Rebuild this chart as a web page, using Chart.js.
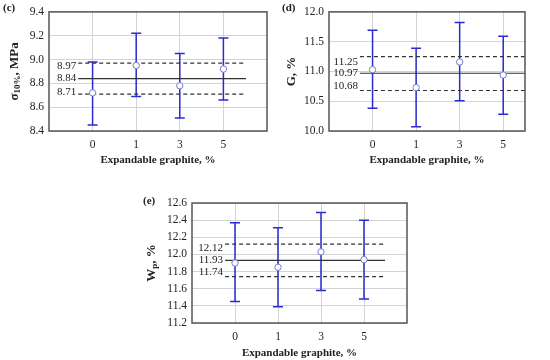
<!DOCTYPE html>
<html>
<head>
<meta charset="utf-8">
<script src="https://cdn.jsdelivr.net/npm/chart.js@4/dist/chart.umd.min.js"></script>
<style>
  body { margin: 0; background: #fff; width: 550px; height: 360px; position: relative; overflow: hidden; }
  canvas { position: absolute; }
  .tag { position: absolute; font: bold 11px "Liberation Serif", serif; color: #222; }
</style>
</head>
<body>
<canvas id="chartC" width="275" height="175" style="left:0;top:0"></canvas>
<canvas id="chartD" width="275" height="175" style="left:275px;top:0"></canvas>
<canvas id="chartE" width="290" height="180" style="left:130px;top:180px"></canvas>
<div class="tag" style="left:3px;top:1px">(c)</div>
<div class="tag" style="left:282px;top:1px">(d)</div>
<div class="tag" style="left:143px;top:194px">(e)</div>
<script>
// ===== DATA =====
const categories = ["0", "1", "3", "5"];

const sigmaMean = [8.72, 8.95, 8.78, 8.92];
const sigmaLow  = [8.45, 8.69, 8.51, 8.66];
const sigmaHigh = [8.98, 9.22, 9.05, 9.18];
const sigmaRef  = [8.97, 8.84, 8.71];

const gMean = [11.03, 10.73, 11.16, 10.94];
const gLow  = [10.38, 10.07, 10.51, 10.28];
const gHigh = [11.69, 11.39, 11.82, 11.59];
const gRef  = [11.25, 10.97, 10.68];

const wMean = [11.90, 11.85, 12.03, 11.94];
const wLow  = [11.45, 11.39, 11.58, 11.48];
const wHigh = [12.37, 12.31, 12.49, 12.40];
const wRef  = [12.12, 11.93, 11.74];

const FONT = "Liberation Serif";
const BLUE = "#2b2bd0";

// error bars, frame, reference labels, y title
const panelPlugin = {
    id: "panel",
    beforeDatasetsDraw(chart, args, opts) {
        const { ctx, scales: { x, y } } = chart;
        ctx.save();
        ctx.strokeStyle = BLUE;
        ctx.lineWidth = 1.5;
        opts.low.forEach((lo, i) => {
            const px = x.getPixelForValue(i);
            const y1 = y.getPixelForValue(lo);
            const y2 = y.getPixelForValue(opts.high[i]);
            ctx.beginPath();
            ctx.moveTo(px, y1); ctx.lineTo(px, y2);
            ctx.moveTo(px - 5, y1); ctx.lineTo(px + 5, y1);
            ctx.moveTo(px - 5, y2); ctx.lineTo(px + 5, y2);
            ctx.stroke();
        });
        ctx.restore();
    },
    afterDraw(chart, args, opts) {
        const { ctx, chartArea: a, scales: { x, y } } = chart;
        ctx.save();
        ctx.strokeStyle = "#555";
        ctx.lineWidth = 1.5;
        ctx.strokeRect(a.left, a.top, a.right - a.left, a.bottom - a.top);

        ctx.fillStyle = "#222";
        ctx.font = `11px "${FONT}"`;
        ctx.textAlign = "right";
        ctx.textBaseline = "middle";
        opts.refs.forEach((v, i) => {
            ctx.fillText(v.toFixed(2), x.getPixelForValue(opts.refStart) - 2,
                y.getPixelForValue(v) + opts.labelShift[i]);
        });

        // rotated y title with subscript
        ctx.translate(opts.titleX, (a.top + a.bottom) / 2);
        ctx.rotate(-Math.PI / 2);
        ctx.textBaseline = "middle";
        ctx.textAlign = "left";
        const fontOf = s => `bold ${s.sub ? 9 : 13}px "${FONT}"`;
        let total = 0;
        opts.title.forEach(s => {
            ctx.font = fontOf(s);
            total += ctx.measureText(s.t).width;
        });
        let cx = -total / 2;
        opts.title.forEach(s => {
            ctx.font = fontOf(s);
            ctx.fillText(s.t, cx, s.sub ? 3 : 0);
            cx += ctx.measureText(s.t).width;
        });
        ctx.restore();
    }
};

function makeChart(id, p) {
    return new Chart(document.getElementById(id).getContext("2d"), {
        type: "scatter",
        data: {
            datasets: [
                {
                    data: p.mean.map((v, i) => ({ x: i, y: v })),
                    pointRadius: 3.2,
                    pointBackgroundColor: "#fff",
                    pointBorderColor: "#7a7ad0",
                    pointBorderWidth: 1,
                    order: 0
                },
                ...p.refs.map((v, i) => ({
                    type: "line",
                    data: [{ x: p.refStart, y: v }, { x: p.refEnd, y: v }],
                    borderColor: "#333",
                    borderWidth: 1.2,
                    borderDash: i === 1 ? [] : [4, 3],
                    pointRadius: 0,
                    order: 1
                }))
            ]
        },
        options: {
            responsive: false,
            animation: false,
            layout: { padding: { top: p.top, right: p.right, left: 0, bottom: p.bottom } },
            plugins: {
                legend: { display: false },
                tooltip: { enabled: false },
                panel: {
                    low: p.low, high: p.high, refs: p.refs,
                    refStart: p.refStart, labelShift: p.labelShift,
                    title: p.title, titleX: p.titleX
                }
            },
            scales: {
                x: {
                    type: "linear",
                    min: -1, max: p.xMax,
                    afterBuildTicks: axis => { axis.ticks = categories.map((c, i) => ({ value: i })); },
                    afterFit: axis => { axis.height = p.xHeight; },
                    grid: { color: "#d4d4d4", drawTicks: false },
                    border: { display: false },
                    ticks: {
                        padding: 7,
                        color: "#222",
                        font: { family: FONT, size: 11.5 },
                        callback: v => categories[v] ?? ""
                    },
                    title: {
                        display: true,
                        text: "Expandable graphite, %",
                        color: "#222",
                        font: { family: FONT, size: 11, weight: "bold" },
                        padding: { top: 4, bottom: 0 }
                    }
                },
                y: {
                    min: p.yMin, max: p.yMax,
                    afterFit: axis => { axis.width = p.left; },
                    grid: { color: "#d4d4d4", drawTicks: false },
                    border: { display: false },
                    ticks: {
                        stepSize: p.step,
                        padding: 5,
                        color: "#222",
                        font: { family: FONT, size: 11.5 },
                        callback: v => v.toFixed(1)
                    }
                }
            }
        },
        plugins: [panelPlugin]
    });
}

makeChart("chartC", {
    mean: sigmaMean, low: sigmaLow, high: sigmaHigh, refs: sigmaRef,
    yMin: 8.4, yMax: 9.4, step: 0.2, xMax: 4,
    refStart: -0.33, refEnd: 3.52, labelShift: [3, 0, -2],
    left: 49, top: 10, right: 8, bottom: 8, xHeight: 36, titleX: 15,
    title: [{ t: "\u03c3" }, { t: "10%", sub: true }, { t: ", MPa" }]
});

makeChart("chartD", {
    mean: gMean, low: gLow, high: gHigh, refs: gRef,
    yMin: 10, yMax: 12, step: 0.5, xMax: 3.5,
    refStart: -0.29, refEnd: 3.5, labelShift: [6, 0, -4],
    left: 54, top: 10, right: 25, bottom: 8, xHeight: 36, titleX: 17,
    title: [{ t: "G, %" }]
});

makeChart("chartE", {
    mean: wMean, low: wLow, high: wHigh, refs: wRef,
    yMin: 11.2, yMax: 12.6, step: 0.2, xMax: 4,
    refStart: -0.23, refEnd: 3.49, labelShift: [4, 0, -5],
    left: 62, top: 23, right: 13, bottom: 0, xHeight: 37, titleX: 22,
    title: [{ t: "W" }, { t: "p", sub: true }, { t: ", %" }]
});
</script>
</body>
</html>
